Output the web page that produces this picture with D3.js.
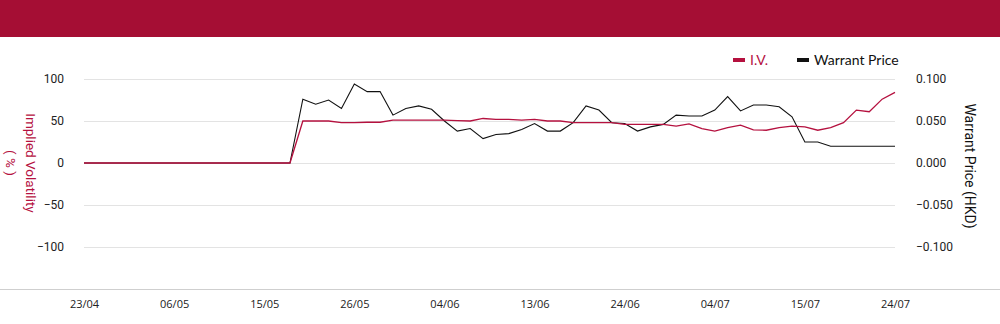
<!DOCTYPE html>
<html>
<head>
<meta charset="utf-8">
<script src="https://cdn.jsdelivr.net/npm/d3@7"></script>
<style>
body { margin: 0; background: #fff; }
svg { display: block; }
</style>
</head>
<body>
<div id="chart"></div>
<script>
// trading days, 23/04 .. 24/07
var dates = ["23/04","24/04","25/04","28/04","29/04","30/04","02/05","06/05","07/05","08/05",
    "09/05","12/05","13/05","14/05","15/05","16/05","19/05","20/05","21/05","22/05",
    "23/05","26/05","27/05","28/05","29/05","30/05","02/06","03/06","04/06","05/06",
    "06/06","09/06","10/06","11/06","12/06","13/06","16/06","17/06","18/06","19/06",
    "20/06","23/06","24/06","25/06","26/06","27/06","30/06","02/07","03/07","04/07",
    "07/07","08/07","09/07","10/07","11/07","14/07","15/07","16/07","17/07","18/07",
    "21/07","22/07","23/07","24/07"];

var ivValues = [0,0,0,0,0,0,0,0,0,0,
    0,0,0,0,0,0,0,50,50,50,
    48,48,48.5,48.5,51,51,51,51,51,50.5,
    50,53,52,52,51,52,50,50,48,48,
    48,48,46,46,46,46,44,46.5,41,38,
    42,45,39.5,39,42,44,43,39,42,48,
    63,61,76,84];

var priceValues = [0,0,0,0,0,0,0,0,0,0,
    0,0,0,0,0,0,0,0.076,0.070,0.075,
    0.065,0.094,0.085,0.085,0.057,0.065,0.068,0.064,0.050,0.038,
    0.041,0.029,0.034,0.035,0.040,0.047,0.038,0.038,0.048,0.068,
    0.063,0.048,0.047,0.038,0.043,0.046,0.057,0.056,0.056,0.063,
    0.079,0.062,0.069,0.069,0.067,0.055,0.025,0.025,0.020,0.020,
    0.020,0.020,0.020,0.020];

var leftTicks = [-100, -50, 0, 50, 100];
var rightTicks = [-0.1, -0.05, 0, 0.05, 0.1];

var width = 1000, height = 324;
var ivColor = "#b5113f";
var priceColor = "#111";

var svg = d3.select("#chart").append("svg")
    .attr("width", width)
    .attr("height", height);

// header band
svg.append("rect")
    .attr("x", 0).attr("y", 0)
    .attr("width", width).attr("height", 37)
    .attr("fill", "#a50e34");

var x = d3.scalePoint()
    .domain(d3.range(dates.length))
    .range([84, 895]);

var yLeft = d3.scaleLinear().domain([-150, 150]).range([289, 37]);
var yRight = d3.scaleLinear().domain([-0.15, 0.15]).range([289, 37]);

// grid
svg.append("g")
    .selectAll("line")
    .data(leftTicks)
    .enter()
    .append("line")
    .attr("x1", 84).attr("x2", 895)
    .attr("y1", function(d) { return Math.round(yLeft(d)) + 0.5; })
    .attr("y2", function(d) { return Math.round(yLeft(d)) + 0.5; })
    .attr("stroke", "#e3e3e3");

// bottom rule
svg.append("line")
    .attr("x1", 0).attr("x2", width)
    .attr("y1", 289.5).attr("y2", 289.5)
    .attr("stroke", "#cfcfcf");

var leftAxis = svg.append("g")
    .attr("transform", "translate(64,0)")
    .call(d3.axisLeft(yLeft).tickValues(leftTicks).tickSize(0).tickPadding(0));
leftAxis.select(".domain").remove();
leftAxis.selectAll("text")
    .attr("font-family", "Roboto, sans-serif")
    .attr("font-size", 12)
    .attr("fill", "#222");

var rightAxis = svg.append("g")
    .attr("transform", "translate(916,0)")
    .call(d3.axisRight(yRight).tickValues(rightTicks).tickSize(0).tickPadding(0)
        .tickFormat(d3.format(".3f")));
rightAxis.select(".domain").remove();
rightAxis.selectAll("text")
    .attr("font-family", "Roboto, sans-serif")
    .attr("font-size", 12)
    .attr("fill", "#222");

var tickIdx = d3.range(0, dates.length, 7);
var bottomAxis = svg.append("g")
    .attr("transform", "translate(0,289)")
    .call(d3.axisBottom(x).tickValues(tickIdx).tickSize(0).tickPadding(11)
        .tickFormat(function(i) { return dates[i]; }));
bottomAxis.select(".domain").remove();
bottomAxis.selectAll("text")
    .attr("font-family", "'Open Sans', sans-serif")
    .attr("font-size", 11)
    .attr("fill", "#222");

// axis titles
var lt = svg.append("text")
    .attr("transform", "translate(26,163) rotate(90)")
    .attr("text-anchor", "middle")
    .attr("font-family", "Roboto, sans-serif")
    .attr("font-size", 13.5)
    .attr("fill", ivColor);
lt.append("tspan").attr("x", 0).attr("dy", 0).text("Implied Volatility");
lt.append("tspan").attr("x", 0).attr("dy", 20).text("( % )");

svg.append("text")
    .attr("transform", "translate(965,166) rotate(90)")
    .attr("text-anchor", "middle")
    .attr("font-family", "Roboto, sans-serif")
    .attr("font-size", 14)
    .attr("fill", "#111")
    .text("Warrant Price (HKD)");

// lines
var priceLine = d3.line()
    .defined(function(d) { return d != null; })
    .x(function(d, i) { return x(i); })
    .y(function(d) { return yRight(d); });

var ivLine = d3.line()
    .defined(function(d) { return d != null; })
    .x(function(d, i) { return x(i); })
    .y(function(d) { return yLeft(d); });

svg.append("path")
    .datum(priceValues)
    .attr("d", priceLine)
    .attr("fill", "none")
    .attr("stroke", priceColor)
    .attr("stroke-width", 1.1);

svg.append("path")
    .datum(ivValues)
    .attr("d", ivLine)
    .attr("fill", "none")
    .attr("stroke", ivColor)
    .attr("stroke-width", 1.3);

// legend
var legendItems = [
    { name: "I.V.", color: ivColor, x: 733 },
    { name: "Warrant Price", color: priceColor, x: 797 }
];
var legend = svg.selectAll(".legend")
    .data(legendItems)
    .enter()
    .append("g")
    .attr("class", "legend")
    .attr("transform", function(d) { return "translate(" + d.x + ",60)"; });

legend.append("rect")
    .attr("x", 0).attr("y", -2)
    .attr("width", 12).attr("height", 4)
    .attr("fill", function(d) { return d.color; });

legend.append("text")
    .attr("x", 17)
    .attr("y", 5)
    .attr("font-family", "Lato, sans-serif")
    .attr("font-size", 14)
    .attr("fill", function(d) { return d.color === ivColor ? ivColor : "#111"; })
    .text(function(d) { return d.name; });
</script>
</body>
</html>
